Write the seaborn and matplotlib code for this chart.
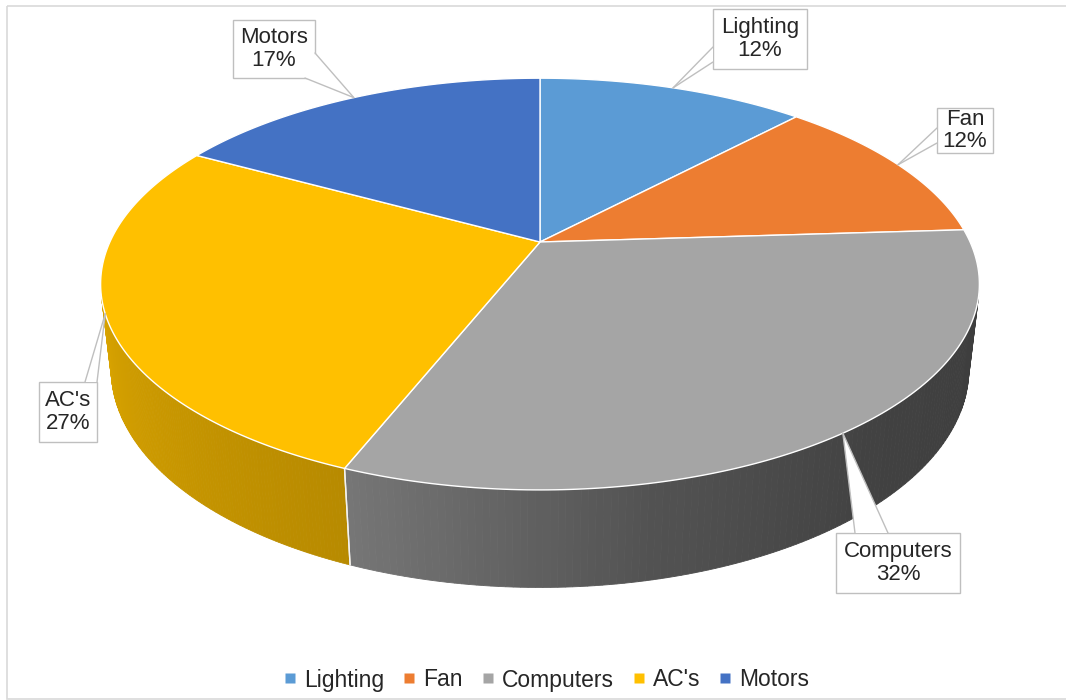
import numpy as np
import matplotlib
matplotlib.use("Agg")
import matplotlib.pyplot as plt
import matplotlib.colors as mcolors
from matplotlib.patches import Polygon, Rectangle
from matplotlib.lines import Line2D
import seaborn as sns

# data
categories = ["Lighting", "Fan", "Computers", "AC's", "Motors"]
shares = [12, 12, 32, 27, 17]
colors = ["#5B9BD5", "#ED7D31", "#A5A5A5", "#FFC000", "#4472C4"]

# callout boxes (x, y, w, h) in pixels, and where each pointer leaves its box
label_boxes = [(713, 9, 94, 60), (937, 108, 56, 45), (836, 533, 124, 60),
               (39, 382, 58, 60), (233, 20, 82, 58)]
pointer_bases = [((713, 47), (713, 62)), ((937, 128), (937, 143)),
                 ((855, 533), (888, 533)), ((85, 382), (97, 382)),
                 ((315, 53), (305, 78))]

sns.set_theme(style="white")
plt.rcParams['font.family'] = ['Liberation Sans', 'DejaVu Sans']
palette = sns.color_palette(colors)

# perspective camera for the 3d pie
CX, CY = 540, 242
F = 1871
DIST = 4.35
TILT = np.radians(27.3)
THICK = 0.2245


def project(phi, r=1.0, z=0.0):
    X = r * np.cos(phi)
    Y = r * np.sin(phi)
    c, s = np.cos(TILT), np.sin(TILT)
    d = DIST + Y * c - z * s
    return CX + F * X / d, CY - F * (Y * s + z * c) / d


def shade(phi):
    deg = np.degrees(phi)
    return np.interp(deg, [-170, -112, -78, -50, -13], [0.86, 0.72, 0.50, 0.40, 0.37])


fig = plt.figure(figsize=(10.66, 7.0), dpi=100)
ax = fig.add_axes([0, 0, 1, 1])
ax.set_xlim(0, 1066)
ax.set_ylim(700, 0)
ax.axis("off")

# chart border
ax.add_patch(Rectangle((7, 6), 1070, 693, fill=False, edgecolor="#D9D9D9", lw=1.2, zorder=0))

fr = np.array(shares) / np.sum(shares)
cum = np.concatenate([[0], np.cumsum(fr)])
starts = np.pi / 2 - 2 * np.pi * cum[:-1]
ends = np.pi / 2 - 2 * np.pi * cum[1:]

a = np.arcsin(1 / (DIST * np.cos(TILT)))
vis_lo, vis_hi = -np.pi + a, -a

# side walls
for i in range(len(shares)):
    hi = min(starts[i], vis_hi)
    lo = max(ends[i], vis_lo)
    if lo >= hi:
        continue
    base = np.array(mcolors.to_rgb(palette[i]))
    phis = np.linspace(hi, lo, 120)
    for p0, p1 in zip(phis[:-1], phis[1:]):
        t0 = project(p0)
        t1 = project(p1)
        b1 = project(p1, z=-THICK)
        b0 = project(p0, z=-THICK)
        col = np.clip(base * shade((p0 + p1) / 2), 0, 1)
        ax.add_patch(Polygon([t0, t1, b1, b0], closed=True, facecolor=col,
                             edgecolor=col, lw=0.6, zorder=2))
    for p in (hi, lo):
        if vis_lo < p < vis_hi:
            t = project(p)
            b = project(p, z=-THICK)
            ax.plot([t[0], b[0]], [t[1], b[1]], color="#F2F2F2", lw=1.0, zorder=2.5)

# top face
for i in range(len(shares)):
    phis = np.linspace(starts[i], ends[i], 150)
    xs, ys = project(phis)
    pts = [(CX, CY)] + list(zip(xs, ys))
    ax.add_patch(Polygon(pts, closed=True, facecolor=palette[i],
                         edgecolor="white", lw=1.0, zorder=3))

# callout labels
for i, cat in enumerate(categories):
    mid = (starts[i] + ends[i]) / 2
    tip = project(mid)
    x0, y0, w, h = label_boxes[i]
    (bx1, by1), (bx2, by2) = pointer_bases[i]
    ax.add_patch(Rectangle((x0, y0), w, h, facecolor="white", edgecolor="#BFBFBF",
                           lw=1.0, zorder=5))
    ax.add_patch(Polygon([(bx1, by1), (bx2, by2), tip], closed=True, facecolor="white",
                         edgecolor="none", zorder=5.5))
    ax.plot([bx1, tip[0]], [by1, tip[1]], color="#BFBFBF", lw=1.0, zorder=5.6)
    ax.plot([bx2, tip[0]], [by2, tip[1]], color="#BFBFBF", lw=1.0, zorder=5.6)
    ax.text(x0 + w / 2, y0 + h / 2, f"{cat}\n{shares[i]}%", ha="center", va="center",
            fontsize=16, color="#262626", linespacing=1.1, zorder=6)

# legend
handles = [Line2D([], [], marker="s", linestyle="none", markersize=7,
                  markerfacecolor=palette[i], markeredgecolor="none") for i in range(len(shares))]
ax.legend(handles, categories, loc="center", bbox_to_anchor=(544 / 1066, 1 - 680 / 700),
          ncol=5, frameon=False, fontsize=16.5, handletextpad=0.1, columnspacing=0.6,
          handlelength=1.0, labelcolor="#262626")

fig.savefig("out.png", dpi=100)
